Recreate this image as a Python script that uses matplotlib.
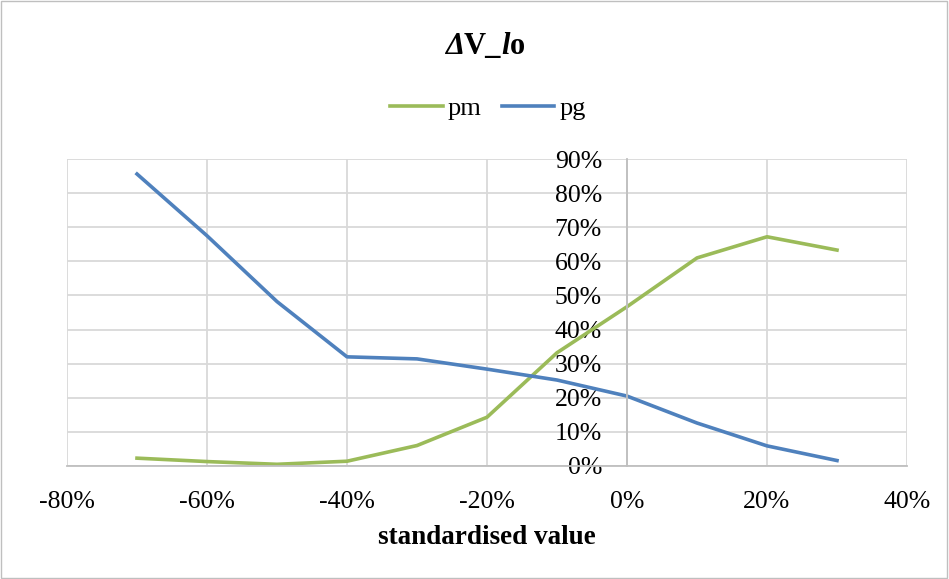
import matplotlib.pyplot as plt
from matplotlib.patches import Rectangle
from matplotlib.ticker import PercentFormatter

plt.rcParams['font.family'] = ['Liberation Serif', 'DejaVu Serif']
plt.rcParams['axes.unicode_minus'] = False

# данные (стандартизированное значение и вероятности)
x = [-70, -60, -50, -40, -30, -20, -10, 0, 10, 20, 30]
pm = [2.3, 1.3, 0.5, 1.4, 6.0, 14.3, 33.2, 46.7, 61.0, 67.2, 63.3]
pg = [85.6, 67.5, 48.2, 32.0, 31.4, 28.4, 25.2, 20.5, 12.6, 5.9, 1.6]

title_parts = [('Δ', 'italic'), ('V_', 'normal'), ('l', 'italic'), ('o', 'normal')]

fig = plt.figure(figsize=(9.49, 5.79), dpi=100)
ax = fig.add_axes([67 / 949, 1 - 466 / 579, 840 / 949, 307 / 579])

ax.plot(x, pm, color='#9BBB59', linewidth=2.6, label='pm')
ax.plot(x, pg, color='#4F81BD', linewidth=2.6, label='pg')

ax.set_xlim(-80, 40)
ax.set_ylim(0, 90)
ax.set_xticks(range(-80, 41, 20))
ax.set_yticks(range(0, 91, 10))
ax.xaxis.set_major_formatter(PercentFormatter(decimals=0))
ax.yaxis.set_major_formatter(PercentFormatter(decimals=0))
ax.grid(True, color='#d9d9d9', linewidth=1.3)
ax.set_axisbelow(True)

for s in ['top', 'right']:
    ax.spines[s].set_visible(False)
ax.spines['left'].set_position(('data', 0))
ax.spines['left'].set_color('#bfbfbf')
ax.spines['bottom'].set_color('#bfbfbf')
ax.spines['left'].set_linewidth(1.3)
ax.spines['bottom'].set_linewidth(1.3)
ax.tick_params(length=0, labelsize=18.5, colors='black')
ax.tick_params(axis='x', pad=18)
ax.tick_params(axis='y', pad=18)

ax.set_xlabel('standardised value', fontsize=19.5, fontweight='bold', labelpad=9)

# заголовок из кусков: часть курсивом
renderer = fig.canvas.get_renderer()
texts = []
total = 0
for s, st in title_parts:
    t = fig.text(0, 1 - 47 / 579, s, fontsize=22, fontweight='bold', fontstyle=st,
                 ha='left', va='center')
    w = t.get_window_extent(renderer).width
    texts.append((t, w))
    total += w
xpos = 485 - total / 2
for t, w in texts:
    t.set_x(xpos / 949)
    xpos += w

fig.legend(loc='center', bbox_to_anchor=(488 / 949, 1 - 108 / 579), ncol=2, frameon=False,
           fontsize=19, handlelength=2.0, columnspacing=0.75, handletextpad=0.2)

fig.patches.append(Rectangle((0.001, 0.002), 0.997, 0.996, transform=fig.transFigure,
                             fill=False, edgecolor='#bfbfbf', linewidth=1))

fig.savefig('out.png', dpi=100)
